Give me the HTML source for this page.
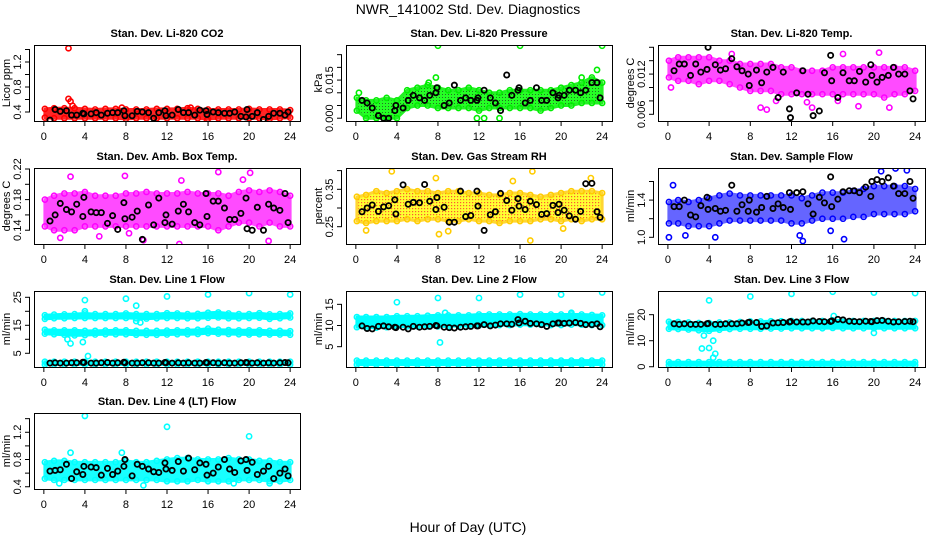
<!DOCTYPE html>
<html><head><meta charset="utf-8"><style>
html,body{margin:0;padding:0;background:#fff;}
svg{display:block;font-family:"Liberation Sans",sans-serif;}
</style></head><body>
<svg id="chart" width="936" height="540" viewBox="0 0 936 540">
<defs>
<pattern id="pGreen" width="3" height="3" patternUnits="userSpaceOnUse"><rect width="3" height="3" fill="#00ff00"/><rect x="1" y="1" width="1" height="1" fill="#005500"/></pattern>
<pattern id="pYellow" width="3" height="3" patternUnits="userSpaceOnUse"><rect width="3" height="3" fill="#ffff00"/><rect x="1" y="1" width="1.2" height="1.2" fill="#ff3000"/></pattern>
</defs>
<text x="468" y="14" text-anchor="middle" font-size="14">NWR_141002  Std. Dev. Diagnostics</text>
<text x="468" y="532" text-anchor="middle" font-size="14">Hour of Day (UTC)</text>
</svg>
<script>
const HOURS=[0,1,2,3,4,5,6,7,8,9,10,11,12,13,14,15,16,17,18,19,20,21,22,23,24];
const X_TICKS=[0,4,8,12,16,20,24];
const BX=[0.6,1.1,1.6,2.2,2.7,3.2,3.8,3.9,4.6,5.1,5.6,6.2,6.7,7.2,7.8,7.9,8.6,9.1,9.6,10.2,10.7,11.2,11.8,11.9,12.5,13.1,13.6,14.1,14.7,15.2,15.8,15.9,16.5,17.0,17.6,18.1,18.6,19.2,19.7,19.8,20.3,20.8,21.4,21.9,22.4,23.0,23.5,23.8];

const co2Lo=[0.31,0.30,0.30,0.30,0.30,0.30,0.30,0.30,0.29,0.30,0.30,0.30,0.30,0.30,0.30,0.30,0.29,0.30,0.30,0.30,0.30,0.30,0.29,0.30,0.31];
const co2Hi=[0.45,0.46,0.46,0.46,0.45,0.44,0.45,0.45,0.44,0.44,0.44,0.45,0.45,0.45,0.46,0.45,0.44,0.44,0.44,0.44,0.45,0.44,0.44,0.44,0.43];
const co2OutX=[2.4,2.4,2.6,2.8,7.6,14.3,15.9,0.6];
const co2OutY=[1.42,0.61,0.57,0.50,0.47,0.47,0.27,0.27];
const co2BY=[0.27,0.44,0.41,0.42,0.35,0.35,0.38,0.37,0.37,0.39,0.35,0.38,0.39,0.39,0.42,0.34,0.34,0.41,0.40,0.39,0.30,0.39,0.42,0.34,0.35,0.44,0.39,0.39,0.35,0.43,0.42,0.36,0.40,0.39,0.38,0.38,0.40,0.33,0.32,0.44,0.33,0.39,0.28,0.33,0.38,0.38,0.35,0.40];

const presLo=[0.003,0.000,0.000,0.000,0.000,0.004,0.005,0.005,0.004,0.004,0.004,0.004,0.003,0.004,0.004,0.004,0.004,0.004,0.003,0.004,0.005,0.005,0.006,0.006,0.006];
const presHi=[0.008,0.007,0.007,0.008,0.007,0.011,0.012,0.013,0.012,0.011,0.011,0.012,0.011,0.010,0.010,0.011,0.011,0.011,0.011,0.011,0.012,0.013,0.014,0.016,0.014];
const presOutX=[8,16,24,23.5,22,7.8,11.8,12.5,14,0.3,7.1];
const presOutY=[0.0285,0.0285,0.0285,0.0190,0.0160,0.0160,0.0000,0.0000,0.0000,0.0100,0.0140];
const presBY=[0.007,0.006,0.004,0.001,0.000,0.000,0.003,0.005,0.004,0.007,0.009,0.008,0.007,0.009,0.010,0.012,0.005,0.006,0.013,0.007,0.008,0.007,0.007,0.008,0.011,0.008,0.006,0.003,0.017,0.009,0.011,0.012,0.006,0.007,0.012,0.007,0.007,0.010,0.008,0.009,0.009,0.011,0.011,0.010,0.011,0.014,0.014,0.008];

const tempLo=[0.0115,0.0110,0.0110,0.0105,0.0110,0.0110,0.0105,0.0100,0.0095,0.0095,0.0095,0.0090,0.0090,0.0090,0.0090,0.0090,0.0090,0.0090,0.0090,0.0090,0.0090,0.0085,0.0090,0.0090,0.0095];
const tempHi=[0.0140,0.0145,0.0145,0.0145,0.0145,0.0140,0.0140,0.0135,0.0135,0.0135,0.0135,0.0130,0.0130,0.0125,0.0125,0.0125,0.0130,0.0130,0.0130,0.0130,0.0130,0.0130,0.0130,0.0130,0.0125];
const tempOutX=[6.2,9.0,9.6,13.5,14.0,18.5,21.5,16.5,10.5,0.3,17.0,20.5];
const tempOutY=[0.0150,0.0070,0.0067,0.0078,0.0070,0.0072,0.0070,0.0080,0.0080,0.0100,0.0150,0.0152];
const tempBY=[0.0125,0.0135,0.0135,0.0118,0.0135,0.0123,0.0127,0.0160,0.0134,0.0126,0.0128,0.0143,0.0131,0.0125,0.0120,0.0103,0.0126,0.0107,0.0123,0.0130,0.0085,0.0123,0.0068,0.0055,0.0092,0.0125,0.0090,0.0058,0.0065,0.0122,0.0148,0.0110,0.0085,0.0122,0.0110,0.0110,0.0124,0.0108,0.0134,0.0118,0.0108,0.0115,0.0118,0.0130,0.0120,0.0120,0.0095,0.0083];

const ambLo=[0.145,0.140,0.140,0.140,0.145,0.145,0.145,0.145,0.145,0.145,0.145,0.145,0.145,0.145,0.145,0.145,0.145,0.140,0.145,0.150,0.150,0.145,0.150,0.145,0.145];
const ambHi=[0.180,0.185,0.188,0.188,0.190,0.185,0.185,0.185,0.188,0.188,0.190,0.188,0.188,0.188,0.190,0.188,0.188,0.188,0.185,0.190,0.192,0.190,0.192,0.190,0.185];
const ambOutX=[2.6,7.9,17,19.4,20.1,13.4,9.7,1.6,5.4,8.3,13.2,21.9];
const ambOutY=[0.210,0.211,0.216,0.206,0.215,0.205,0.127,0.130,0.132,0.136,0.122,0.126];
const ambBY=[0.152,0.160,0.175,0.167,0.164,0.174,0.158,0.183,0.164,0.163,0.163,0.149,0.159,0.141,0.176,0.155,0.157,0.165,0.128,0.173,0.147,0.182,0.150,0.160,0.148,0.165,0.174,0.164,0.150,0.147,0.188,0.158,0.178,0.178,0.169,0.154,0.154,0.162,0.182,0.142,0.140,0.170,0.140,0.174,0.169,0.166,0.188,0.150];

const rhLo=[0.265,0.260,0.265,0.265,0.265,0.270,0.265,0.270,0.270,0.265,0.265,0.270,0.265,0.265,0.260,0.265,0.265,0.265,0.270,0.270,0.265,0.270,0.265,0.270,0.270];
const rhHi=[0.330,0.335,0.345,0.340,0.345,0.350,0.345,0.345,0.340,0.345,0.345,0.340,0.340,0.335,0.335,0.340,0.340,0.335,0.330,0.335,0.340,0.345,0.345,0.345,0.340];
const rhOutX=[3.5,7.8,17.2,22.9,15.3,8.1,17.0,1.0,9.0,20.2];
const rhOutY=[0.398,0.380,0.398,0.380,0.372,0.230,0.213,0.240,0.238,0.245];
const rhBY=[0.290,0.300,0.308,0.291,0.303,0.306,0.322,0.284,0.362,0.310,0.315,0.314,0.363,0.318,0.296,0.328,0.302,0.262,0.262,0.345,0.277,0.280,0.345,0.305,0.240,0.282,0.290,0.339,0.320,0.294,0.325,0.305,0.296,0.318,0.309,0.283,0.285,0.307,0.288,0.310,0.294,0.279,0.270,0.291,0.365,0.366,0.290,0.275];

const flowLo=[1.15,1.15,1.12,1.12,1.12,1.15,1.18,1.18,1.18,1.18,1.18,1.18,1.15,1.15,1.18,1.20,1.20,1.20,1.22,1.22,1.25,1.25,1.25,1.25,1.28];
const flowHi=[1.38,1.40,1.38,1.40,1.42,1.45,1.47,1.45,1.45,1.45,1.45,1.45,1.45,1.42,1.45,1.48,1.48,1.48,1.50,1.52,1.55,1.55,1.55,1.55,1.52];
const flowOutX=[0.1,0.5,4.6,12.8,13.1,17.1,20.7,22.1,23.2,15.8,1.7];
const flowOutY=[1.00,1.56,1.00,1.02,0.96,0.98,1.71,1.74,1.72,1.07,1.02];
const flowBY=[1.33,1.33,1.40,1.24,1.22,1.34,1.43,1.30,1.31,1.28,1.29,1.56,1.28,1.35,1.28,1.40,1.27,1.32,1.44,1.31,1.36,1.32,1.48,1.30,1.48,1.49,1.36,1.25,1.43,1.37,1.65,1.33,1.41,1.49,1.50,1.50,1.48,1.54,1.44,1.60,1.62,1.60,1.64,1.55,1.47,1.47,1.60,1.42];

const l1aLo=[17.3,17.5,17.5,17.6,17.6,17.6,17.6,17.6,17.6,17.5,17.4,17.5,17.6,17.6,17.5,17.5,17.7,17.8,17.5,17.5,17.6,17.7,17.3,17.5,17.8];
const l1aHi=[18.6,18.8,18.9,19.0,19.2,19.0,19.0,19.0,19.2,19.0,19.0,19.0,19.3,19.2,19.0,19.1,19.5,19.6,19.2,19.0,19.0,19.3,18.9,19.0,19.2];
const l1bLo=[12.0,11.8,11.6,11.4,11.5,11.7,11.8,11.8,11.8,11.6,11.6,11.6,11.7,11.8,11.8,11.9,12.2,12.0,11.9,11.8,11.7,11.8,11.7,11.7,11.6];
const l1bHi=[13.4,13.2,13.2,13.2,13.0,13.0,13.1,13.2,13.2,13.0,13.0,13.0,13.1,13.2,13.2,13.4,13.8,13.4,13.3,13.2,13.2,13.2,13.0,13.0,12.9];
const l1cLo=[1.0,1.0,1.0,1.0,1.0,1.0,1.0,1.0,1.0,1.0,1.0,1.0,1.0,1.0,1.0,1.0,1.0,1.0,1.0,1.0,1.0,1.0,1.0,1.0,1.0];
const l1cHi=[2.0,2.0,2.0,2.0,2.0,2.0,2.0,2.0,2.0,2.0,2.0,2.0,2.0,2.0,2.0,2.0,2.0,2.0,2.0,2.0,2.0,2.0,2.0,2.0,2.0];
const l1OutX=[4.0,4.0,2.6,2.3,3.8,4.3,8.0,9.0,9.0,12.0,16.0,20.0,24.0,9.4];
const l1OutY=[24.0,20.0,8.5,10.0,9.0,4.0,24.5,22.0,16.5,25.3,26.0,26.5,26.0,16.0];
const l1BY=[1.5,1.6,1.5,1.5,1.6,1.6,1.8,1.7,1.5,1.5,1.6,1.7,1.5,1.6,1.8,1.6,1.5,1.5,1.6,1.6,1.5,1.5,1.7,1.6,1.5,1.6,1.5,1.6,1.5,1.5,1.7,1.6,1.6,1.5,1.6,1.5,1.5,1.6,1.7,1.6,1.5,1.6,1.5,1.6,1.5,1.6,1.7,1.6];

const l2aLo=[9.6,9.5,9.5,9.6,9.7,9.8,9.8,9.8,9.8,9.8,9.9,9.9,10.0,10.0,10.1,10.1,10.2,10.2,10.2,10.1,10.1,10.2,10.2,10.1,10.1];
const l2aHi=[12.0,12.0,12.0,12.0,12.2,12.2,12.2,12.3,12.4,12.4,12.4,12.4,12.6,12.6,12.6,12.6,12.7,12.6,12.6,12.6,12.6,12.6,12.6,12.5,12.4];
const l2bLo=[0.8,0.8,0.8,0.8,0.8,0.8,0.8,0.8,0.8,0.8,0.8,0.8,0.8,0.8,0.8,0.8,0.8,0.8,0.8,0.8,0.8,0.8,0.8,0.8,0.8];
const l2bHi=[1.7,1.7,1.7,1.7,1.7,1.7,1.7,1.7,1.7,1.7,1.7,1.7,1.7,1.7,1.7,1.7,1.7,1.7,1.7,1.7,1.7,1.7,1.7,1.7,1.7];
const l2OutX=[4.0,8.0,8.2,12.0,16.0,20.0,24.0,8.7,21.0];
const l2OutY=[15.5,16.5,6.0,16.5,17.3,17.3,17.8,13.0,13.0];
const l2BY=[9.9,9.3,9.2,9.8,9.9,9.7,9.6,9.5,9.6,9.2,9.8,9.6,9.7,9.8,10.0,9.9,9.6,9.5,9.4,9.6,9.7,9.8,9.9,9.9,10.2,9.9,10.1,10.4,10.4,10.3,11.4,10.6,11.0,10.5,10.4,10.2,9.8,10.4,10.6,10.6,10.5,10.6,10.7,10.5,10.2,10.2,10.4,9.7];

const l3aLo=[14.6,14.5,14.3,14.0,13.8,14.2,14.5,14.6,14.6,14.6,14.7,14.7,14.8,14.8,14.8,14.8,14.9,14.8,14.8,14.8,14.8,14.8,14.8,14.8,14.8];
const l3aHi=[17.3,17.2,17.0,16.8,16.8,17.0,17.0,17.2,17.4,17.4,17.5,17.5,17.6,17.6,17.6,17.6,17.8,17.8,17.6,17.6,17.6,17.6,17.6,17.6,17.6];
const l3bLo=[0.6,0.6,0.6,0.6,0.6,0.6,0.6,0.6,0.6,0.6,0.6,0.6,0.6,0.6,0.6,0.6,0.6,0.6,0.6,0.6,0.6,0.6,0.6,0.6,0.6];
const l3bHi=[1.8,1.8,1.8,1.8,1.8,1.8,1.8,1.8,1.8,1.8,1.8,1.8,1.8,1.8,1.8,1.8,1.8,1.8,1.8,1.8,1.8,1.8,1.8,1.8,1.8];
const l3OutX=[4.0,8.0,12.0,16.0,20.0,24.0,3.3,4.0,4.4,4.6,4.4,20.0,3.5,16.1];
const l3OutY=[25.5,27.0,28.0,28.8,28.5,28.3,7.0,7.2,10.0,5.0,3.5,13.0,12.0,19.5];
const l3BY=[16.5,16.3,16.5,16.3,16.3,16.3,16.5,16.6,16.3,16.3,16.5,16.5,16.5,16.8,17.0,17.1,17.0,15.5,15.7,16.8,16.9,17.0,17.2,17.4,17.2,17.2,17.2,17.6,17.4,17.3,17.4,17.6,18.2,18.0,17.5,17.4,17.3,17.5,17.4,17.3,17.7,17.8,17.5,17.2,17.3,17.4,17.5,17.3];

const l4Lo=[0.52,0.50,0.50,0.50,0.50,0.50,0.50,0.50,0.50,0.50,0.50,0.50,0.48,0.48,0.48,0.50,0.48,0.48,0.48,0.50,0.50,0.50,0.48,0.48,0.50];
const l4Hi=[0.76,0.78,0.78,0.76,0.76,0.76,0.76,0.76,0.78,0.76,0.76,0.78,0.80,0.82,0.82,0.80,0.80,0.80,0.82,0.80,0.80,0.78,0.78,0.76,0.76];
const l4OutX=[4.0,12.0,20.0,2.6,7.6,18.5,9.7,1.5,22.0];
const l4OutY=[1.44,1.28,1.14,0.90,0.90,0.45,0.42,0.45,0.45];
const l4BY=[0.63,0.64,0.65,0.73,0.52,0.62,0.58,0.70,0.69,0.68,0.57,0.67,0.58,0.63,0.70,0.80,0.56,0.73,0.70,0.66,0.62,0.61,0.75,0.66,0.64,0.77,0.63,0.82,0.65,0.75,0.73,0.57,0.60,0.69,0.80,0.66,0.61,0.78,0.80,0.64,0.76,0.58,0.63,0.70,0.52,0.60,0.66,0.56];

const PANELS=[
 {name:'co2',title:'Stan. Dev. Li-820 CO2',ylab:'Licor ppm',col:0,row:0,ymin:0.256,ymax:1.472,ticks:[0.4,0.6,0.8,1.0,1.2,1.4],labels:[0.4,0.8,1.2],dec:1,color:'#ff0000',fill:'#ff0000',op:0.85,bands:[[co2Lo,co2Hi]],ox:co2OutX,oy:co2OutY,by:co2BY},
 {name:'pressure',title:'Stan. Dev. Li-820 Pressure',ylab:'kPa',col:1,row:0,ymin:-0.0011,ymax:0.0288,ticks:[0,0.005,0.010,0.015,0.020,0.025],labels:[0,0.015],dec:3,color:'#00ee00',fill:'url(#pGreen)',op:0.85,bands:[[presLo,presHi]],ox:presOutX,oy:presOutY,by:presBY},
 {name:'temp',title:'Stan. Dev. Li-820 Temp.',ylab:'degrees C',col:2,row:0,ymin:0.0050,ymax:0.01634,ticks:[0.006,0.008,0.010,0.012,0.014,0.016],labels:[0.006,0.012],dec:3,color:'#ff00ff',fill:'#ff00ff',op:0.7,bands:[[tempLo,tempHi]],ox:tempOutX,oy:tempOutY,by:tempBY},
 {name:'amb-box-temp',title:'Stan. Dev. Amb. Box Temp.',ylab:'degrees C',col:0,row:1,ymin:0.122,ymax:0.2213,ticks:[0.14,0.16,0.18,0.20,0.22],labels:[0.14,0.18,0.22],dec:2,color:'#ff00ff',fill:'#ff00ff',op:0.7,bands:[[ambLo,ambHi]],ox:ambOutX,oy:ambOutY,by:ambBY},
 {name:'gas-rh',title:'Stan. Dev. Gas Stream RH',ylab:'percent',col:1,row:1,ymin:0.2037,ymax:0.407,ticks:[0.20,0.25,0.30,0.35,0.40],labels:[0.25,0.35],dec:2,color:'#ffcc00',fill:'url(#pYellow)',op:0.8,bands:[[rhLo,rhHi]],ox:rhOutX,oy:rhOutY,by:rhBY},
 {name:'sample-flow',title:'Stan. Dev. Sample Flow',ylab:'ml/min',col:2,row:1,ymin:0.928,ymax:1.745,ticks:[1.0,1.2,1.4,1.6],labels:[1.0,1.4],dec:1,color:'#0000ff',fill:'#0000ff',op:0.6,bands:[[flowLo,flowHi]],ox:flowOutX,oy:flowOutY,by:flowBY},
 {name:'line1-flow',title:'Stan. Dev. Line 1 Flow',ylab:'ml/min',col:0,row:2,ymin:0.1,ymax:27.25,ticks:[5,10,15,20,25],labels:[5,15,25],dec:0,color:'#00ffff',fill:'#00ffff',op:1,bands:[[l1aLo,l1aHi],[l1bLo,l1bHi],[l1cLo,l1cHi]],ox:l1OutX,oy:l1OutY,by:l1BY},
 {name:'line2-flow',title:'Stan. Dev. Line 2 Flow',ylab:'ml/min',col:1,row:2,ymin:0.2,ymax:18.15,ticks:[5,10,15],labels:[5,10,15],dec:0,color:'#00ffff',fill:'#00ffff',op:1,bands:[[l2aLo,l2aHi],[l2bLo,l2bHi]],ox:l2OutX,oy:l2OutY,by:l2BY},
 {name:'line3-flow',title:'Stan. Dev. Line 3 Flow',ylab:'ml/min',col:2,row:2,ymin:-0.1,ymax:29.1,ticks:[0,10,20],labels:[0,10,20],dec:0,color:'#00ffff',fill:'#00ffff',op:1,bands:[[l3aLo,l3aHi],[l3bLo,l3bHi]],ox:l3OutX,oy:l3OutY,by:l3BY},
 {name:'line4-flow',title:'Stan. Dev. Line 4 (LT) Flow',ylab:'ml/min',col:0,row:3,ymin:0.367,ymax:1.483,ticks:[0.4,0.6,0.8,1.0,1.2,1.4],labels:[0.4,0.8,1.2],dec:1,color:'#00ffff',fill:'#00ffff',op:0.9,bands:[[l4Lo,l4Hi]],ox:l4OutX,oy:l4OutY,by:l4BY}
];
const COL_L=[34,346,658], COL_R=[300,612,925];
const ROW_T=[45,168,291,413], BOX_H=76;
const NS='http://www.w3.org/2000/svg';
const svg=document.getElementById('chart');
function mk(tag,attrs,parent){const e=document.createElementNS(NS,tag);for(const k in attrs)e.setAttribute(k,attrs[k]);(parent||svg).appendChild(e);return e;}

PANELS.forEach(p=>{
  const L=COL_L[p.col],R=COL_R[p.col],T=ROW_T[p.row],B=T+BOX_H;
  const g=mk('g',{});
  
  
  const xs=v=>L+(v+0.96)/25.92*(R-L);
  const ys=v=>B-(v-p.ymin)/(p.ymax-p.ymin)*(B-T);
  const clip='clip-'+p.name;
  const cp=mk('clipPath',{id:clip},g);mk('rect',{x:L,y:T,width:R-L,height:B-T},cp);
  const plot=mk('g',{'clip-path':'url(#'+clip+')'},g);
  
  
  p.bands.forEach((bd,bi)=>{
    const lo=bd[0],hi=bd[1];
    let d='';
    HOURS.forEach((h,i)=>{const x=h===0?xs(0.1):xs(h);d+=(i?'L':'M')+x.toFixed(1)+' '+ys(hi[i]).toFixed(1);});
    for(let i=HOURS.length-1;i>=0;i--){const x=HOURS[i]===0?xs(0.1):xs(HOURS[i]);d+='L'+x.toFixed(1)+' '+ys(lo[i]).toFixed(1);}
    const path=mk('path',{d:d+'Z',fill:p.fill,stroke:p.color,'stroke-width':3,'stroke-linejoin':'round',opacity:p.op},plot);
    
    
    HOURS.forEach((h,i)=>{
      [lo[i],hi[i]].forEach(v=>{
        const c=mk('circle',{cx:xs(h===0?0.1:h),cy:ys(v),r:2.6,fill:'none',stroke:p.color,'stroke-width':1.5},plot);
        
        
      });
    });
  });
  p.ox.forEach((x,i)=>{
    const c=mk('circle',{cx:xs(x),cy:ys(p.oy[i]),r:2.6,fill:'none',stroke:p.color,'stroke-width':1.6},plot);
    
    
  });
  BX.forEach((x,i)=>{
    const c=mk('circle',{cx:xs(x),cy:ys(p.by[i]),r:2.6,fill:'none',stroke:'#000','stroke-width':1.8},plot);
    
    
  });
  const box=mk('rect',{x:L+0.5,y:T+0.5,width:R-L,height:B-T,fill:'none',stroke:'#000','stroke-width':1},g);
  
  
  const t=mk('text',{x:(L+R)/2,y:T-8,'text-anchor':'middle','font-size':11,'font-weight':'bold'},g);
  t.textContent=p.title;
  
  
  mk('line',{x1:xs(X_TICKS[0]),x2:xs(X_TICKS[X_TICKS.length-1]),y1:B+0.5,y2:B+0.5,stroke:'#000'},g);
  X_TICKS.forEach(v=>{
    mk('line',{x1:xs(v),x2:xs(v),y1:B,y2:B+5,stroke:'#000'},g);
    const tl=mk('text',{x:xs(v),y:B+19,'text-anchor':'middle','font-size':11},g);
    tl.textContent=v;
    
    
  });
  const tk=p.ticks.filter(v=>v>=p.ymin&&v<=p.ymax);
  mk('line',{x1:L-4.5,x2:L-4.5,y1:ys(tk[0]),y2:ys(tk[tk.length-1]),stroke:'#000'},g);
  tk.forEach(v=>mk('line',{x1:L-9,x2:L-4,y1:ys(v),y2:ys(v),stroke:'#000'},g));
  p.labels.forEach(v=>{
    const y=ys(v),x=L-13;
    const tl=mk('text',{x:x,y:y,'text-anchor':'middle','font-size':11,transform:'rotate(-90 '+x+' '+y+')'},g);
    tl.textContent=v.toFixed(p.dec);
    
    
  });
  const yx=L-24,yy=(T+B)/2;
  const yl=mk('text',{x:yx,y:yy,'text-anchor':'middle','font-size':11,transform:'rotate(-90 '+yx+' '+yy+')'},g);
  yl.textContent=p.ylab;
  
  
});
</script>
</body></html>
